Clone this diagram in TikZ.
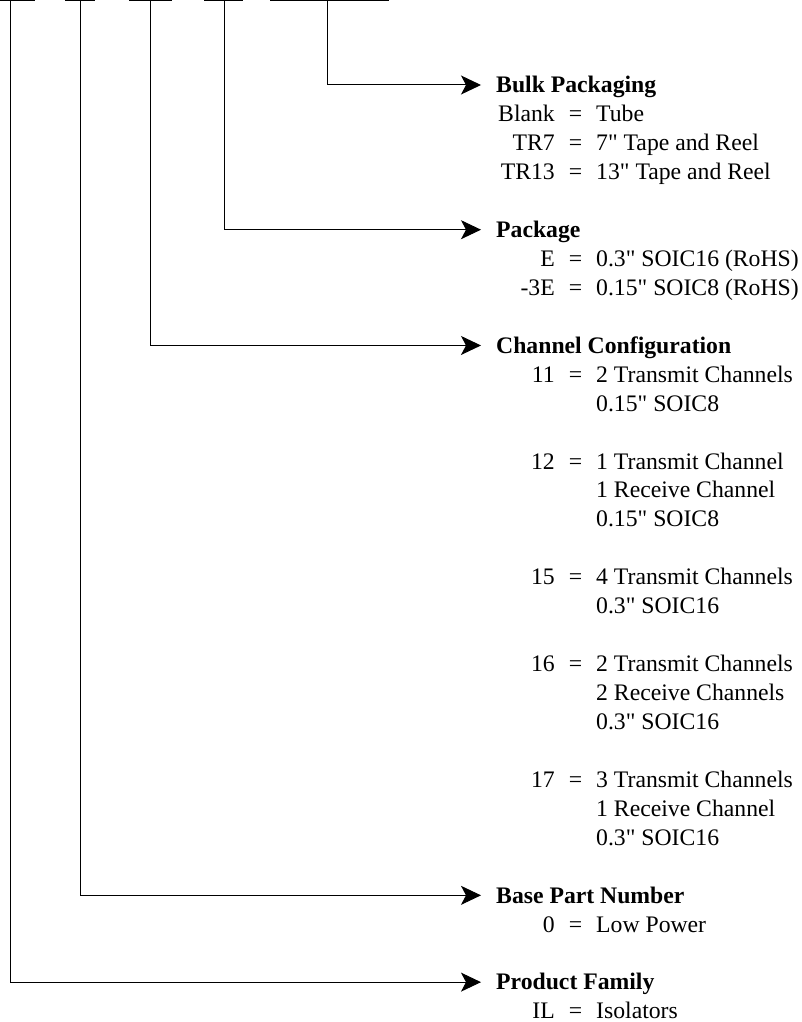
\documentclass[tikz,border=0pt]{standalone}
\usepackage{fontspec}
\setmainfont{Liberation Serif}[Ligatures=TeXOff]
\usepackage{tikz}
\usetikzlibrary{arrows.meta, positioning}
\newcommand{\ordfont}{\fontsize{23.7pt}{29pt}\selectfont}
\tikzset{
  txt/.style={inner sep=0pt, text height=15.6pt, text depth=0pt, font=\ordfont},
  hdr/.style={txt, anchor=west, font=\ordfont\bfseries},
  code/.style={txt, anchor=east},
  eqsign/.style={txt, anchor=center},
  meaning/.style={txt, anchor=west},
  slot/.style={line width=1pt},
  arr/.style={-{Stealth[length=20pt, width=19pt, inset=5pt]}, line width=1pt,
              shorten >=15pt},
}

\begin{document}
\begin{tikzpicture}[x=1pt, y=-1pt]
  \useasboundingbox (0,0) rectangle (801,1022);
  % part number slots
  \draw[slot] (-2,1) -- (35,1);
  \draw[slot] (65,1) -- (95,1);
  \draw[slot] (129,1) -- (172,1);
  \draw[slot] (204,1) -- (243,1);
  \draw[slot] (270,1) -- (389,1);
  \coordinate (famslot) at (10,1);
  \coordinate (baseslot) at (80,1);
  \coordinate (chanslot) at (150,1);
  \coordinate (pkgslot) at (224,1);
  \coordinate (bulkslot) at (327,1);

  % field headings
  \node[hdr] (bulk) at (496,85) {Bulk Packaging};
  \node[hdr] (pkg) at (496,{85+28.94*5}) {Package};
  \node[hdr] (chan) at (496,{85+28.94*9}) {Channel Configuration};
  \node[hdr] (base) at (496,{85+28.94*28}) {Base Part Number};
  \node[hdr] (fam) at (496,{85+28.94*31}) {Product Family};

  % codes and what they mean
  \foreach \k/\c/\m in {1/Blank/Tube, 2/TR7/7" Tape and Reel,
      3/TR13/13" Tape and Reel, 6/E/0.3" SOIC16 (RoHS),
      7/-3E/0.15" SOIC8 (RoHS), 10/11/2 Transmit Channels,
      13/12/1 Transmit Channel, 17/15/4 Transmit Channels,
      20/16/2 Transmit Channels, 24/17/3 Transmit Channels,
      29/0/Low Power, 32/IL/Isolators}{
    \node[code] (c\k) at (555,{85+28.94*\k}) {\c};
    \node[eqsign] (e\k) at (575.5,{85+28.94*\k}) {=};
    \node[meaning] (m\k) at (596,{85+28.94*\k}) {\m};
  }
  \foreach \k/\m in {11/0.15" SOIC8, 14/1 Receive Channel, 15/0.15" SOIC8,
      18/0.3" SOIC16, 21/2 Receive Channels, 22/0.3" SOIC16,
      25/1 Receive Channel, 26/0.3" SOIC16}{
    \node[meaning] (m\k) at (596,{85+28.94*\k}) {\m};
  }

  % slot to field
  \draw[arr] (bulkslot) |- (bulk.west);
  \draw[arr] (pkgslot) |- (pkg.west);
  \draw[arr] (chanslot) |- (chan.west);
  \draw[arr] (baseslot) |- (base.west);
  \draw[arr] (famslot) |- (fam.west);
\end{tikzpicture}
\end{document}
